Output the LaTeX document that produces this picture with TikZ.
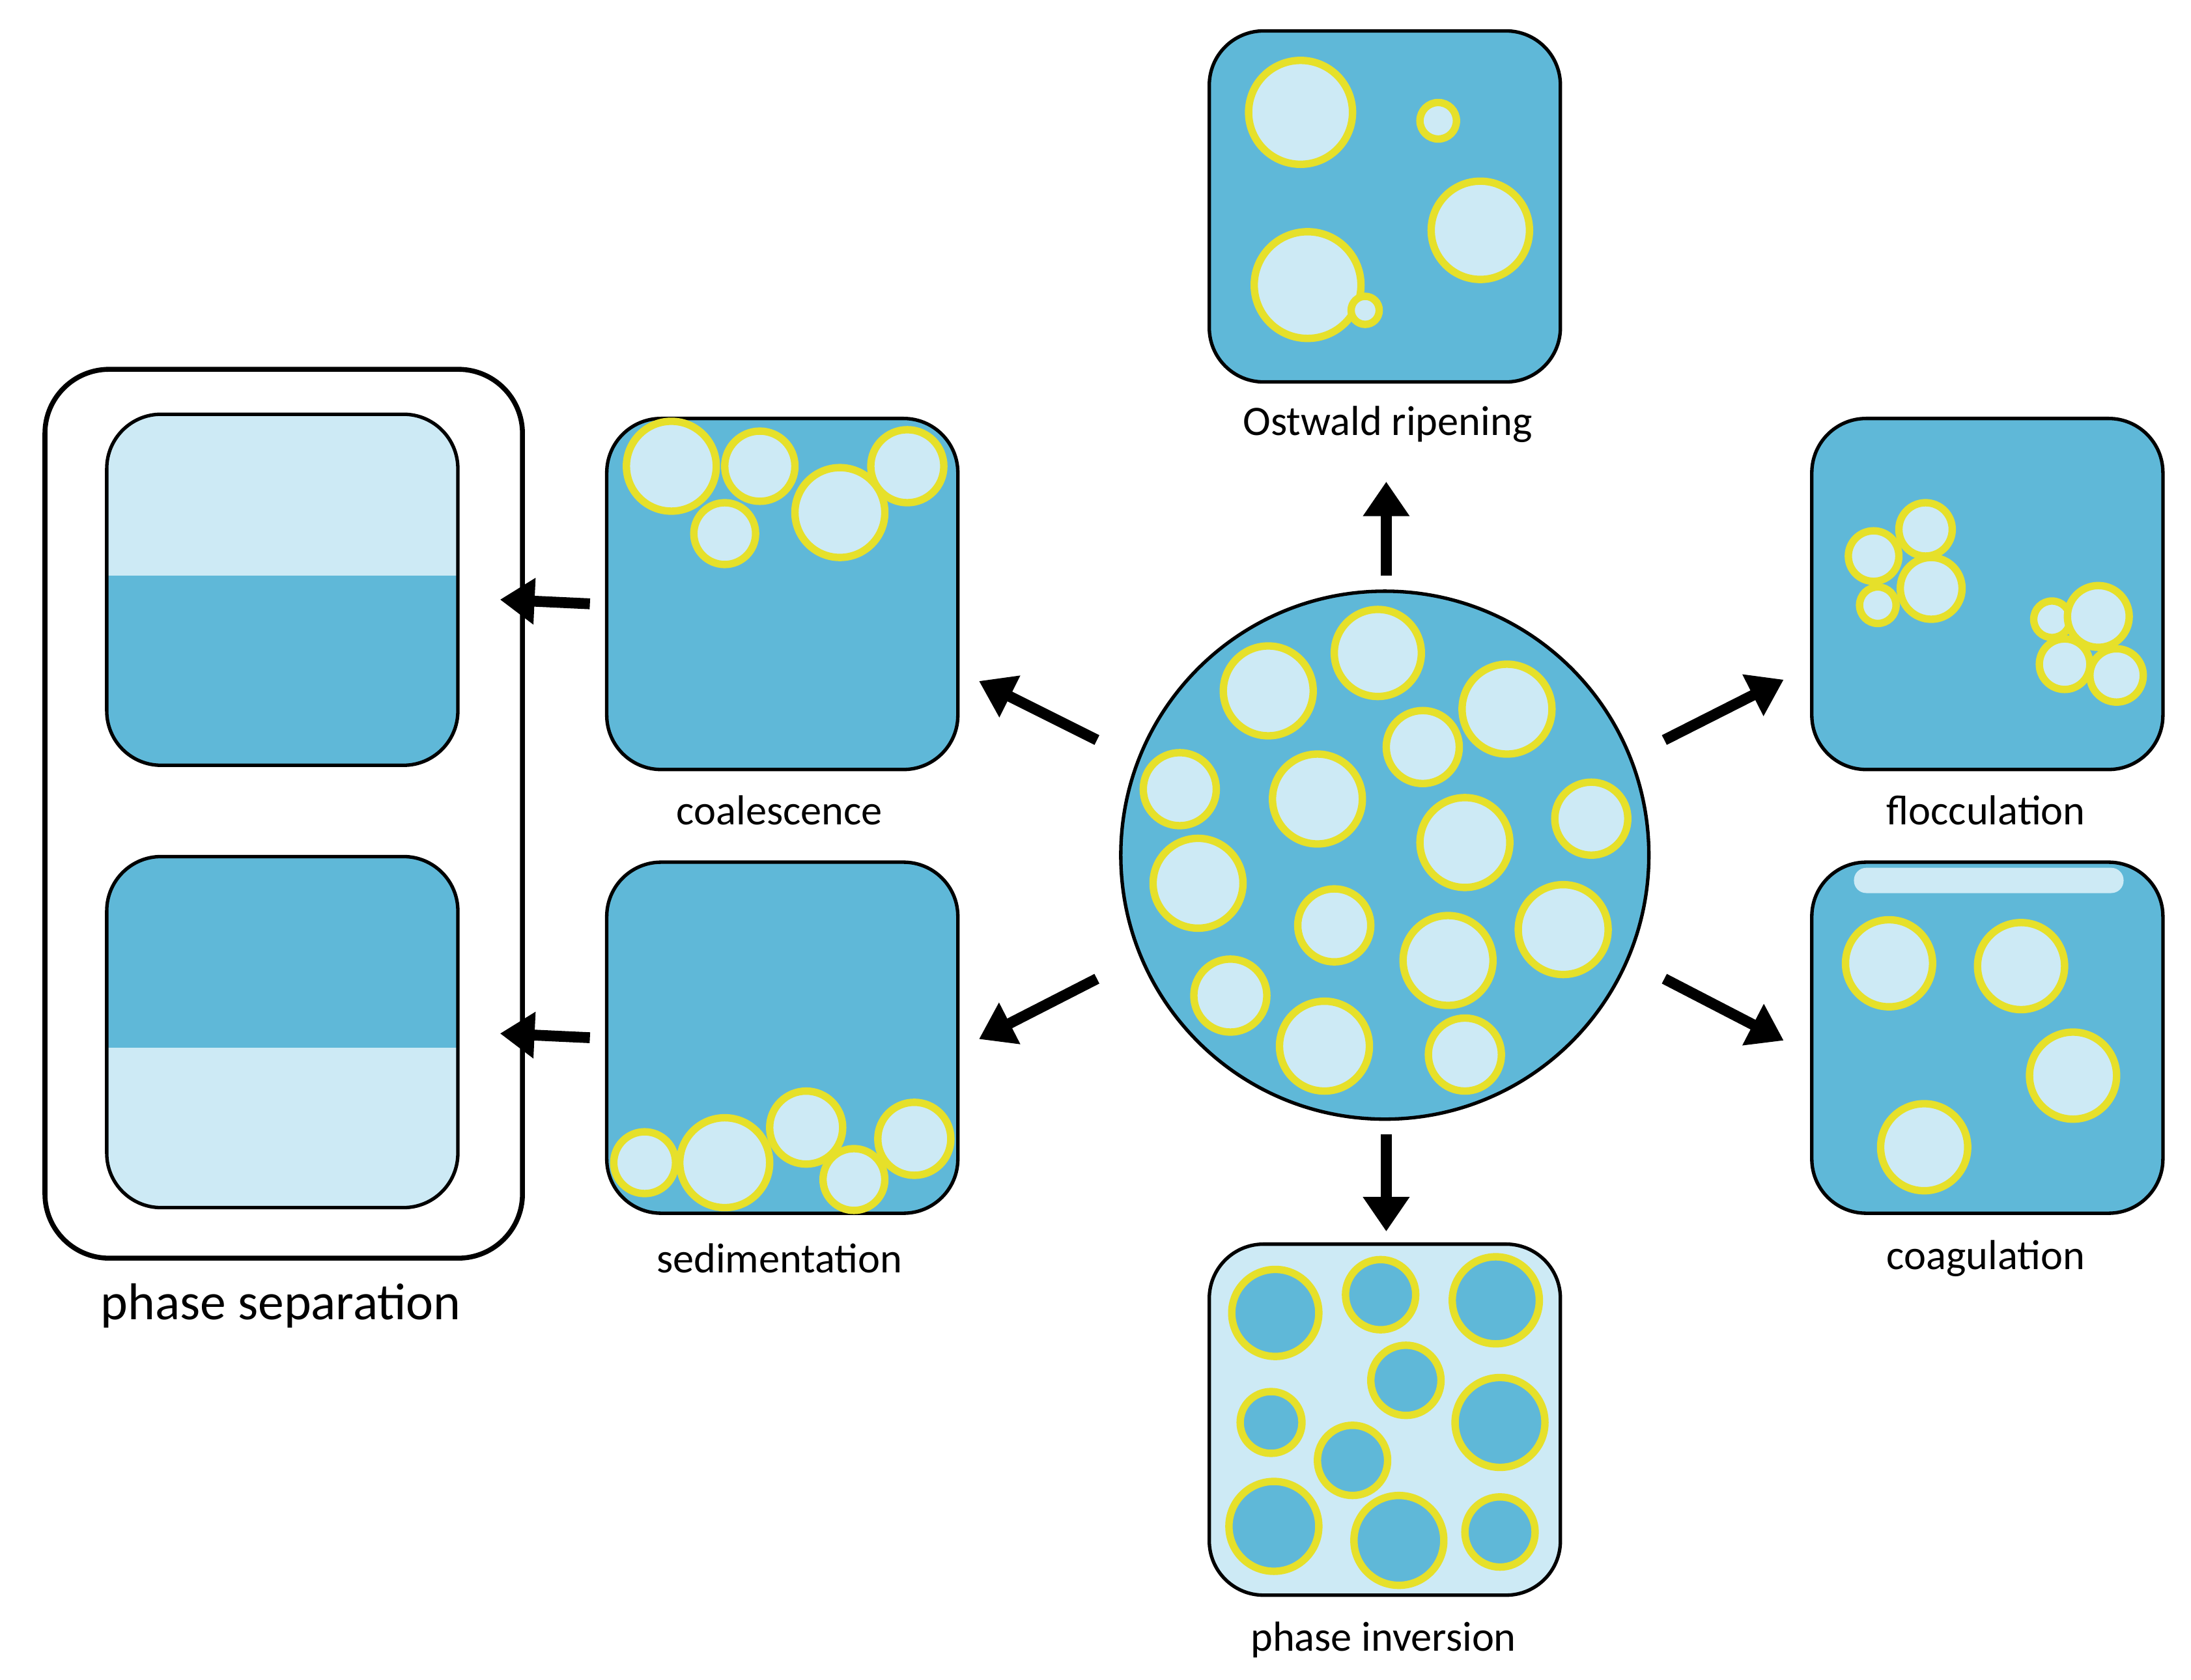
\documentclass[tikz,border=0pt]{standalone}
\usepackage{fontspec}
\setmainfont{Carlito}
\usetikzlibrary{arrows.meta}
\definecolor{dk}{HTML}{5FB8D8}
\definecolor{lt}{HTML}{CDEAF5}
\definecolor{yl}{HTML}{E6E02A}
\begin{document}
\begin{tikzpicture}[x=0.1mm,y=-0.1mm,
  box/.style={draw=black,line width=0.7pt,rounded corners=11pt},
  sq/.style={box,minimum size=25mm,inner sep=0},
  drop/.style={fill=lt,draw=yl,line width=1.5pt},
  idrop/.style={fill=dk,draw=yl,line width=1.5pt},
  arr/.style={line width=2.2pt,-{Triangle[length=7pt,width=9pt]}},
  lab/.style={font=\fontsize{8.5pt}{10pt}\selectfont}]
\useasboundingbox (0,0) rectangle (1560,1196);
% Ostwald
\node[sq,fill=dk] (ost) at (986,147) {};
\foreach \x/\y/\r in {926/80/37,1024/86/13,1054/164/35,931/203/38,972/221/10}
  \draw[drop] (\x,\y) circle (\r);
\node[lab] (ostl) at (988,302) {Ostwald ripening};
% center
\node[circle,draw=black,line width=0.7pt,fill=dk,minimum size=37.6mm,inner sep=0] (c) at (986,609) {};
\foreach \x/\y/\r in {903/492/32,981/465/31,1073/505/32,1013/532/26,840/562/26,938/569/32,1043/600/32,1133/583/26,853/629/32,950/659/26,1031/684/32,1113/662/32,876/709/26,943/745/32,1043/751/26}
  \draw[drop] (\x,\y) circle (\r);
% coalescence
\node[sq,fill=dk] (coal) at (557,423) {};
\foreach \x/\y/\r in {478/332/32,541/332/25,598/365/32,646/332/26,516/380/22}
  \draw[drop] (\x,\y) circle (\r);
\node[lab] (coall) at (555,577) {coalescence};
% sedimentation
\node[sq,fill=dk] (sed) at (557,739) {};
\foreach \x/\y/\r in {459/828/22,516/828/32,574/803/26,608/840/22,651/811/26}
  \draw[drop] (\x,\y) circle (\r);
\node[lab] (sedl) at (555,896) {sedimentation};
% phase separation
\draw[box,line width=1pt,rounded corners=13pt] (32,263) rectangle (372,896);
\begin{scope}
\clip[rounded corners=11pt] (76,295) rectangle (326,545);
\fill[lt] (76,295) rectangle (326,410);
\fill[dk] (76,410) rectangle (326,545);
\end{scope}
\draw[box] (76,295) rectangle (326,545);
\begin{scope}
\clip[rounded corners=11pt] (76,610) rectangle (326,860);
\fill[dk] (76,610) rectangle (326,746);
\fill[lt] (76,746) rectangle (326,860);
\end{scope}
\draw[box] (76,610) rectangle (326,860);
\node[font=\fontsize{10.5pt}{12pt}\selectfont] (psl) at (200,930) {phase separation};
% flocculation
\node[sq,fill=dk] (floc) at (1415,423) {};
\foreach \x/\y/\r in {1334/396/18,1371/377/19,1375/419/22,1337/431/13,1461/441/13,1494/439/22,1470/473/18,1507/481/19}
  \draw[drop] (\x,\y) circle (\r);
\node[lab] (flocl) at (1414,577) {flocculation};
% coagulation
\node[sq,fill=dk] (coag) at (1415,739) {};
\fill[lt,rounded corners=2.5pt] (1320,618) rectangle (1512,636);
\foreach \x/\y/\r in {1345/686/31,1439/688/31,1476/766/31,1370/817/31}
  \draw[drop] (\x,\y) circle (\r);
\node[lab] (coagl) at (1414,896) {coagulation};
% phase inversion
\node[sq,fill=lt] (inv) at (986,1011) {};
\foreach \x/\y/\r in {908/935/31,983/922/25,1065/926/31,1001/983/25,905/1013/22,1068/1013/32,963/1040/25,907/1087/32,996/1097/32,1068/1091/25}
  \draw[idrop] (\x,\y) circle (\r);
\node[lab] (invl) at (985,1168) {phase inversion};
% arrows
\coordinate (a1s) at (987,410); \coordinate (a1e) at (987,343);
\coordinate (a2s) at (781,527); \coordinate (a2e) at (697,485);
\coordinate (a3s) at (781,697); \coordinate (a3e) at (697,740);
\coordinate (a4s) at (1185,527); \coordinate (a4e) at (1270,484);
\coordinate (a5s) at (1185,697); \coordinate (a5e) at (1270,741);
\coordinate (a6s) at (987,808); \coordinate (a6e) at (987,877);
\coordinate (a7s) at (420,430); \coordinate (a7e) at (356,427);
\coordinate (a8s) at (420,739); \coordinate (a8e) at (356,736);
\foreach \i in {1,...,8} \draw[arr] (a\i s) -- (a\i e);
\end{tikzpicture}
\end{document}
